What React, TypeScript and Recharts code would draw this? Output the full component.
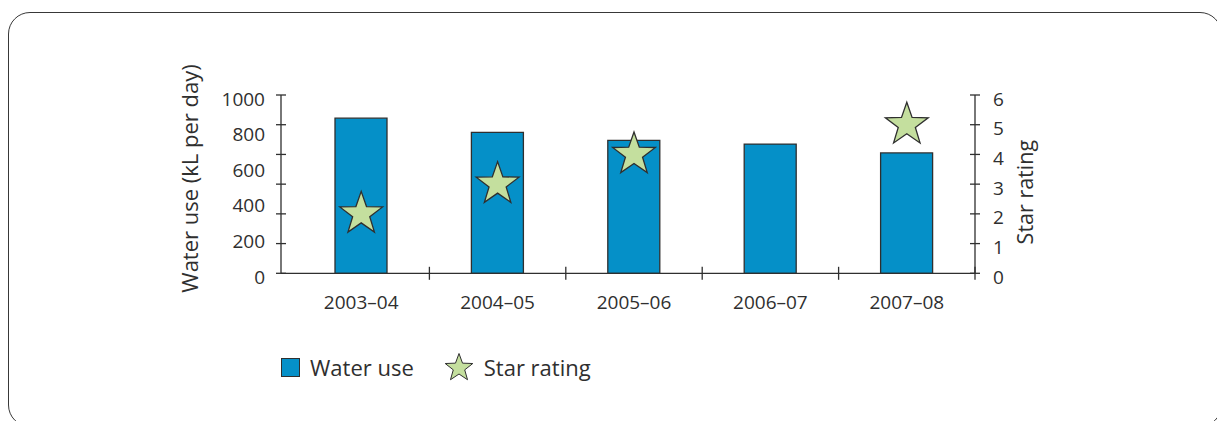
import React from "react";
import {
    ComposedChart,
    Bar,
    Scatter,
    XAxis,
    YAxis,
    Legend,
    Label,
} from "recharts";

// values per financial year
const years = ["2003–04", "2004–05", "2005–06", "2006–07", "2007–08"];
const waterUse = [870, 790, 745, 725, 675];
const starRating: (number | null)[] = [2, 3, 4, null, 5];

const waterTicks = [0, 200, 400, 600, 800, 1000];
const starTicks = [0, 1, 2, 3, 4, 5, 6];

const chartData = years.map((year, i) => ({
    year,
    water: waterUse[i],
    stars: starRating[i],
}));

const INK = "#2f2f2f";
const BLUE = "#0590c8";
const GREEN = "#c4df9e";
const FONT = "'Open Sans', sans-serif";
const TICK_FONT = 19;

const starPoints = (cx: number, cy: number, outer: number, inner: number) => {
    const pts: string[] = [];
    for (let i = 0; i < 10; i++) {
        const r = i % 2 === 0 ? outer : inner;
        const a = -Math.PI / 2 + (i * Math.PI) / 5;
        pts.push(`${cx + r * Math.cos(a)},${cy + r * Math.sin(a)}`);
    }
    return pts.join(" ");
};

const StarShape = (props: any) => {
    const { cx, cy } = props;
    if (cx == null || cy == null || Number.isNaN(cy)) return <g />;
    return (
        <polygon
            points={starPoints(cx, cy, 22.5, 9)}
            fill={GREEN}
            stroke={INK}
            strokeWidth={1.3}
        />
    );
};

const LeftTick = (p: any) => (
    <text x={p.x} y={p.y + 3.5} textAnchor="end" dominantBaseline="central"
        fill={INK} fontSize={TICK_FONT} fontFamily={FONT}>
        {p.payload.value}
    </text>
);

const RightTick = (p: any) => (
    <text x={p.x} y={p.y + 3.5} textAnchor="start" dominantBaseline="central"
        fill={INK} fontSize={TICK_FONT} fontFamily={FONT}>
        {p.payload.value}
    </text>
);

const BottomTick = (p: any) => (
    <text x={p.x} y={p.y + 19} textAnchor="middle"
        fill={INK} fontSize={TICK_FONT} fontFamily={FONT}>
        {p.payload.value}
    </text>
);

const NoLabel = () => <g />;

const axisTitle = (text: string, size: number, dx: number, dy: number) => (props: any) => {
    const vb = props.viewBox;
    const x = vb.x + dx;
    const y = vb.y + vb.height / 2 + dy;
    return (
        <text x={x} y={y} transform={`rotate(-90, ${x}, ${y})`} textAnchor="middle"
            fill={INK} fontSize={size} fontFamily={FONT}>
            {text}
        </text>
    );
};

const legendOrder = ["water", "stars"];

const renderLegend = (props: any) => {
    const items = [...(props.payload || [])].sort(
        (a: any, b: any) => legendOrder.indexOf(a.dataKey) - legendOrder.indexOf(b.dataKey)
    );
    return (
        <div style={{ display: "flex", alignItems: "center", fontFamily: FONT,
            fontSize: 22, color: INK, lineHeight: "28px" }}>
            {items.map((entry: any) => (
                <div key={entry.value} style={{ display: "flex", alignItems: "center", marginRight: 30 }}>
                    {entry.dataKey === "stars" ? (
                        <svg width={30} height={28}>
                            <polygon points={starPoints(15, 15, 14.5, 6)} fill={GREEN} stroke={INK} strokeWidth={1} />
                        </svg>
                    ) : (
                        <svg width={19} height={19}>
                            <rect x={0.5} y={0.5} width={18} height={18} fill={BLUE} stroke={INK} strokeWidth={1} />
                        </svg>
                    )}
                    <span style={{ marginLeft: 10 }}>{entry.value}</span>
                </div>
            ))}
        </div>
    );
};

export default function App() {
    return (
        <div style={{ position: "fixed", left: 0, top: 0, width: 1217, height: 421,
            overflow: "hidden", background: "#fff" }}>
            <div style={{ position: "absolute", left: 8, top: 12, width: 1214, height: 415,
                boxSizing: "border-box", border: "1.5px solid #383838", borderRadius: 22 }} />
            <div style={{ position: "absolute", left: 0, top: 0 }}>
                <ComposedChart width={1217} height={421} data={chartData}
                    margin={{ top: 95, right: 0, bottom: 0, left: 0 }}>
                    <XAxis dataKey="year" height={147.7} padding={{ left: 12, right: 0 }}
                        stroke={INK} strokeWidth={1.3} tickSize={13} tickMargin={4}
                        tickLine={{ stroke: INK, strokeWidth: 1.3, transform: "translate(68.2,-6.5)" }}
                        tick={BottomTick} interval={0} />
                    {/* left scale labels */}
                    <YAxis yAxisId="left" width={281} domain={[0, 1000]} ticks={waterTicks}
                        stroke={INK} strokeWidth={1.3} tickLine={false} tickSize={10} tickMargin={6}
                        tick={LeftTick} interval={0}>
                        <Label content={axisTitle("Water use (kL per day)", 22, 198, -5.7)} />
                    </YAxis>
                    {/* left tick marks share the six-step spacing of the star axis */}
                    <YAxis yAxisId="leftMarks" mirror width={20} domain={[0, 6]} ticks={starTicks}
                        allowDataOverflow axisLine={false} tick={NoLabel} tickSize={10} interval={0}
                        stroke={INK} strokeWidth={1.3}
                        tickLine={{ stroke: INK, strokeWidth: 1.3, transform: "translate(-5,0)" }} />
                    <YAxis yAxisId="right" orientation="right" width={242} domain={[0, 6]}
                        ticks={starTicks} stroke={INK} strokeWidth={1.3} tickSize={10} tickMargin={8}
                        tickLine={{ stroke: INK, strokeWidth: 1.3, transform: "translate(-5,0)" }}
                        tick={RightTick} interval={0}>
                        <Label content={axisTitle("Star rating", 21.5, 58, 8)} />
                    </YAxis>
                    <Bar yAxisId="left" dataKey="water" name="Water use" barSize={52}
                        fill={BLUE} stroke={INK} strokeWidth={1.3} isAnimationActive={false} />
                    <Scatter yAxisId="right" dataKey="stars" name="Star rating"
                        shape={StarShape} isAnimationActive={false} />
                    <Legend verticalAlign="middle" align="center" layout="horizontal"
                        content={renderLegend}
                        wrapperStyle={{ top: 353, left: 281, width: "auto" }} />
                </ComposedChart>
            </div>
        </div>
    );
}
